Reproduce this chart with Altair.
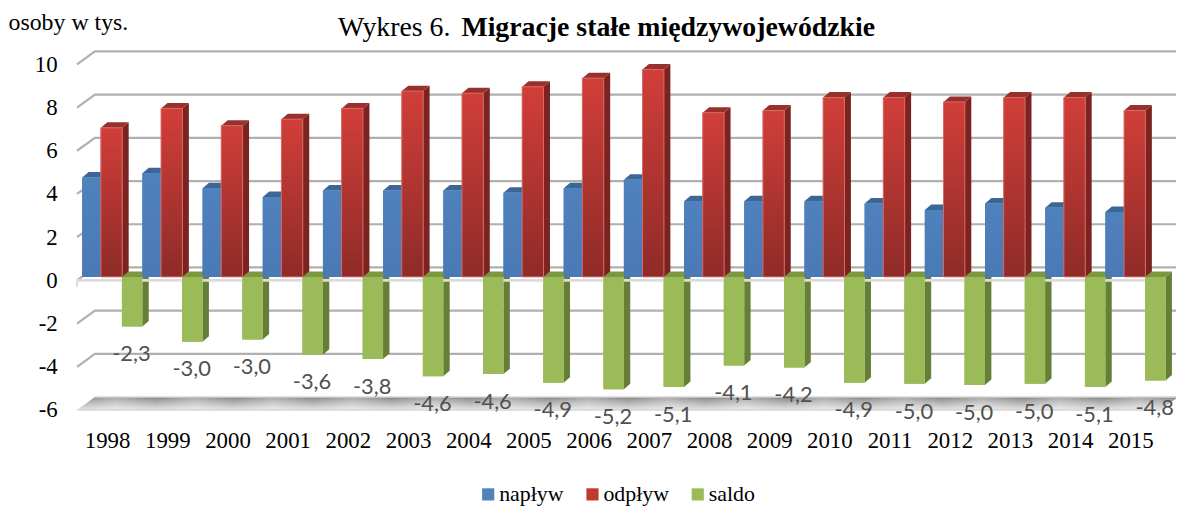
import altair as alt
import pandas as pd

years = list(range(1998, 2016))
naplyw = [4.6, 4.8, 4.1, 3.7, 4.0, 4.0, 4.0, 3.9, 4.1, 4.5, 3.5, 3.5, 3.5, 3.4, 3.1, 3.4, 3.2, 3.0]
odplyw = [6.9, 7.8, 7.0, 7.3, 7.8, 8.6, 8.5, 8.8, 9.2, 9.6, 7.6, 7.7, 8.3, 8.3, 8.1, 8.3, 8.3, 7.7]
saldo = [-2.3, -3.0, -2.9, -3.6, -3.8, -4.6, -4.5, -4.9, -5.2, -5.1, -4.1, -4.2, -4.9, -4.95, -5.0, -4.95, -5.1, -4.8]
saldo_labels = ["-2,3", "-3,0", "-3,0", "-3,6", "-3,8", "-4,6", "-4,6", "-4,9", "-5,2", "-5,1",
                "-4,1", "-4,2", "-4,9", "-5,0", "-5,0", "-5,0", "-5,1", "-4,8"]
y_ticks = [-6, -4, -2, 0, 2, 4, 6, 8, 10]
series_names = ["napływ", "odpływ", "saldo"]
series_colors = ["#4f81bd", "#c0392f", "#9bbb59"]

SERIF = "Liberation Serif"
PX_X = 60.6          # pixels per category
PX_Y = 21.75         # pixels per y unit
WIDTH = 1106.5
HEIGHT = 361
X_MAX = WIDTH / PX_X
Y_MIN, Y_MAX = -6, -6 + HEIGHT / PX_Y
WALL_X, WALL_Y = 18 / PX_X, 13 / PX_Y   # chart depth
DX, DY = 6.5 / PX_X, 5.5 / PX_Y         # bar depth
BASE = 3.5 / PX_Y                       # bars stand mid-way through the depth

x_scale = alt.Scale(domain=[0, X_MAX], nice=False, zero=False)
y_scale = alt.Scale(domain=[Y_MIN, Y_MAX], nice=False, zero=False)
x_axis = alt.Axis(
    values=[i + 0.5 for i in range(len(years))], labelExpr="'' + (%d + floor(datum.value))" % years[0],
    title=None, domain=False, ticks=False, grid=False, labelFont=SERIF, labelFontSize=23,
    labelColor="#000000", labelPadding=20, labelOverlap=False, labelBound=False, labelFlush=False)
y_axis = alt.Axis(
    values=y_ticks, labelExpr="'' + datum.value", title="osoby w tys.", titleFont=SERIF, titleFontSize=24,
    titleFontWeight="normal", titleColor="#000000", titleAngle=0, titleAlign="left",
    titleBaseline="alphabetic", titleX=-69.5, titleY=-22,
    domain=False, ticks=False, grid=False, labelFont=SERIF, labelFontSize=23,
    labelColor="#000000", labelPadding=20, labelOverlap=False, labelBound=False)
X = alt.X("x:Q", scale=x_scale, axis=x_axis)
Y = alt.Y("y:Q", scale=y_scale, axis=y_axis)


def bars(values, start_px, width_px):
    front, side, top = [], [], []
    for i, v in enumerate(values):
        x0 = i + start_px / PX_X
        x1 = x0 + width_px / PX_X
        hi = max(v, 0) + BASE
        lo = min(v, 0) + BASE
        front.append({"x": x0, "x2": x1, "y": hi, "y2": lo})
        for xx, yy, yy2 in [(x1, lo, hi), (x1 + DX, lo + DY, hi + DY)]:
            side.append({"k": i, "x": xx, "y": yy, "y2": yy2})
        top += [
            {"k": i, "x": x0, "y": hi, "y2": hi},
            {"k": i, "x": x0 + DX, "y": hi, "y2": hi + DY},
            {"k": i, "x": x1, "y": hi, "y2": hi + DY},
            {"k": i, "x": x1 + DX, "y": hi + DY, "y2": hi + DY},
        ]
    return pd.DataFrame(front), pd.DataFrame(side), pd.DataFrame(top)


def grad(stops, horizontal=False):
    return alt.Gradient(
        gradient="linear", x1=0, y1=0, x2=1 if horizontal else 0, y2=0 if horizontal else 1,
        stops=[alt.GradientStop(offset=o, color=c) for o, c in stops],
    )


def bar_layers(values, start_px, width_px, front_color, side_color, top_color, stroke=None):
    f, s, t = bars(values, start_px, width_px)
    side = alt.Chart(s).mark_area(color=side_color, line=False).encode(x=X, y=Y, y2="y2:Q", detail="k:N")
    tops = alt.Chart(t).mark_area(color=top_color, line=False).encode(x=X, y=Y, y2="y2:Q", detail="k:N")
    kw = {"stroke": stroke, "strokeWidth": 1} if stroke else {}
    fr = alt.Chart(f).mark_rect(color=front_color, **kw).encode(x=X, x2="x2:Q", y=Y, y2="y2:Q")
    return [side, tops, fr]


# back wall and left wall grid lines
grid_rows = []
for v in y_ticks:
    if v == -6:
        continue
    for xx, yy in [(0, v), (WALL_X, v + WALL_Y), (X_MAX, v + WALL_Y)]:
        grid_rows.append({"k": v, "x": xx, "y": yy})
grid = alt.Chart(pd.DataFrame(grid_rows)).mark_line(color="#b0b0b0", strokeWidth=2.2).encode(x=X, y=Y, detail="k:N")

# floor
fx = 18.0
floor_df = pd.DataFrame([
    {"x": 0, "y": -6, "y2": -6},
    {"x": WALL_X, "y": -6, "y2": -6 + WALL_Y},
    {"x": fx, "y": -6, "y2": -6 + WALL_Y},
    {"x": fx + WALL_X, "y": -6 + WALL_Y, "y2": -6 + WALL_Y},
])
floor = alt.Chart(floor_df).mark_area(
    color=grad([(0, "#7a7a7a"), (0.2, "#9a9a9a"), (0.6, "#c2c2c2"), (1, "#e2e2e2")]),
    line=False,
).encode(x=X, y=Y, y2="y2:Q")
streak_stops = []
n_streaks = 14
for s in range(n_streaks):
    streak_stops += [
        (s / n_streaks, "rgba(255,255,255,0)"),
        ((s + 0.5) / n_streaks, "rgba(255,255,255,0.3)"),
    ]
streak_stops.append((1, "rgba(255,255,255,0)"))
floor_streaks = alt.Chart(floor_df).mark_area(color=grad(streak_stops, horizontal=True), line=False).encode(
    x=X, y=Y, y2="y2:Q"
)
floor_edges = alt.Chart(pd.DataFrame([
    {"k": 0, "x": 0, "y": -6}, {"k": 0, "x": fx, "y": -6},
    {"k": 1, "x": WALL_X, "y": -6 + WALL_Y}, {"k": 1, "x": fx + WALL_X, "y": -6 + WALL_Y},
])).mark_line(color="#d6d6d6", strokeWidth=1.5).encode(x=X, y=Y, detail="k:N")

# zero line with its ticks, in front of the green bars
zero_line = alt.Chart(pd.DataFrame({"x": [0], "x2": [18], "y": [0]})).mark_rule(
    color="#dcdcdc", strokeWidth=2.6
).encode(x=X, x2="x2:Q", y=Y)
zero_ticks = alt.Chart(pd.DataFrame({"x": list(range(19)), "y": [0] * 19, "y2": [-7 / PX_Y] * 19})).mark_rule(
    color="#dcdcdc", strokeWidth=1.8
).encode(x=X, y=Y, y2="y2:Q")

# legend carrier: flat swatches drawn underneath the shaded fronts
legend_rows = []
for name, values, start, w in [("napływ", naplyw, 5.2, 20.5), ("odpływ", odplyw, 24.0, 21.5)]:
    for i, v in enumerate(values):
        legend_rows.append({"s": name, "x": i + start / PX_X, "x2": i + (start + w) / PX_X, "y": v + BASE, "y2": BASE})
for i, v in enumerate(saldo):
    legend_rows.append({"s": "saldo", "x": i + 45.2 / PX_X, "x2": i + 65.7 / PX_X, "y": BASE, "y2": v + BASE})
legend_df = pd.DataFrame(legend_rows)
legend_layer = alt.Chart(legend_df).mark_rect().encode(
    x=X, x2="x2:Q", y=Y, y2="y2:Q",
    color=alt.Color("s:N", scale=alt.Scale(domain=series_names, range=series_colors),
                    legend=alt.Legend(
                        title=None, orient="none", legendX=403, legendY=435, direction="horizontal",
                        symbolType="square", symbolSize=150, symbolStrokeWidth=0, labelFont=SERIF,
                        labelFontSize=22, labelColor="#000000", columnPadding=18, labelOffset=0,
                    )),
)

# data labels
labels_df = pd.DataFrame({
    "x": [i + 54.8 / PX_X for i in range(len(years))],
    "y": [v + BASE for v in saldo],
    "t": saldo_labels,
})
labels = alt.Chart(labels_df).mark_text(
    font="Lato", fontSize=22, color="#505050", yOffset=28, align="center", baseline="middle"
).encode(x=X, y=Y, text="t:N")

title_regular = "Wykres 6."
title_bold = "Migracje stałe międzywojewódzkie"
t1 = alt.Chart(pd.DataFrame({"t": [title_regular]})).mark_text(
    font=SERIF, fontSize=28, align="right", baseline="alphabetic", color="#000000"
).encode(x=alt.value(376), y=alt.value(-16), text="t:N")
t2 = alt.Chart(pd.DataFrame({"t": [title_bold]})).mark_text(
    font=SERIF, fontSize=28, fontWeight="bold", align="left", baseline="alphabetic", color="#000000"
).encode(x=alt.value(387), y=alt.value(-16), text="t:N")

layers = [grid, floor, floor_streaks, floor_edges]
layers += bar_layers(saldo, 45.2, 20.5, "#9bbb59", "#667f38", "#7c983f")
layers += [zero_line, zero_ticks]
layers += [legend_layer]
layers += bar_layers(naplyw, 5.2, 20.5, grad([(0, "#4f81bd"), (1, "#4a7ab5")]), "#385f8e", "#3c6696")
layers += bar_layers(odplyw, 24.0, 21.5, grad([(0, "#d13e39"), (1, "#8e2b28")]), "#7a2320", "#98302c", stroke="#d96a66")
layers += [labels, t1, t2]

chart = alt.layer(*layers).properties(
    width=WIDTH, height=HEIGHT,
    autosize=alt.AutoSizeParams(type="none"),
    padding={"left": 69.5, "top": 42, "right": 0, "bottom": 100},
).configure_view(stroke=None).configure_legend(labelFont=SERIF, labelFontSize=22, labelColor="#000000")

chart.save("out.html", embed_options={"renderer": "svg", "actions": False})
